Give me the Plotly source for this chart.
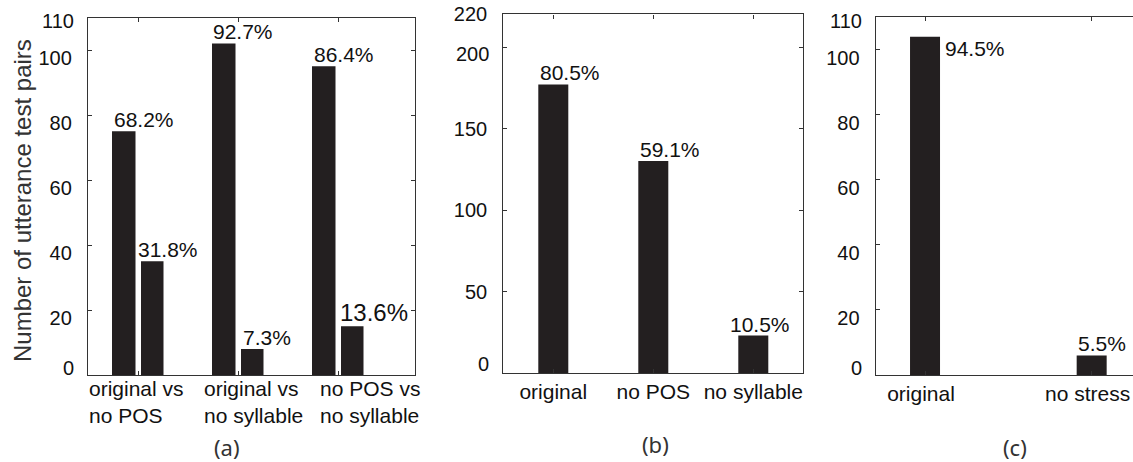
import plotly.graph_objects as go

W, H = 1133, 462

# ---------------- data ----------------
# panel (a): paired comparisons, 110 test pairs each
a_groups = ["original vs<br>no POS", "original vs<br>no syllable", "no POS vs<br>no syllable"]
a_first = [75, 102, 95]
a_second = [35, 8, 15]
a_first_pct = ["68.2%", "92.7%", "86.4%"]
a_second_pct = ["31.8%", "7.3%", "13.6%"]
a_yticks = [0, 20, 40, 60, 80, 100, 110]

# panel (b)
b_cats = ["original", "no POS", "no syllable"]
b_vals = [177, 130, 23]
b_pct = ["80.5%", "59.1%", "10.5%"]
b_yticks = [0, 50, 100, 150, 200, 220]

# panel (c)
c_cats = ["original", "no stress"]
c_vals = [104, 6]
c_pct = ["94.5%", "5.5%"]
c_yticks = [0, 20, 40, 60, 80, 100, 110]

y_title = "Number of utterance test pairs"
panel_labels = ["(a)", "(b)", "(c)"]

# ---------------- style ----------------
BAR = "#231f20"
LINE = "#333333"
TXT = "#111111"
FONT = "Liberation Sans, Arial, sans-serif"


def px_x(p):
    return p / W


def px_y(p):
    return (H - p) / H


fig = go.Figure()

# panel (a) bars
xa = list(range(len(a_groups)))
fig.add_trace(go.Bar(x=xa, y=a_first, width=0.235, offset=-0.26,
                     marker=dict(color=BAR, line=dict(width=0)),
                     xaxis="x", yaxis="y", showlegend=False))
fig.add_trace(go.Bar(x=xa, y=a_second, width=0.225, offset=0.03,
                     marker=dict(color=BAR, line=dict(width=0)),
                     xaxis="x", yaxis="y", showlegend=False))

# panel (b) bars
xb = list(range(len(b_cats)))
fig.add_trace(go.Bar(x=xb, y=b_vals, width=0.3,
                     marker=dict(color=BAR, line=dict(width=0)),
                     xaxis="x2", yaxis="y2", showlegend=False))

# panel (c) bars
xc = list(range(len(c_cats)))
fig.add_trace(go.Bar(x=xc, y=c_vals, width=0.18,
                     marker=dict(color=BAR, line=dict(width=0)),
                     xaxis="x3", yaxis="y3", showlegend=False))


def yaxis_cfg(domain, rng, ticks, hidden, shift, anchor, mirror):
    return dict(domain=domain, range=rng, anchor=anchor, automargin=False,
                tickmode="array", tickvals=ticks,
                ticktext=["" if t in hidden else str(t) for t in ticks],
                ticks="inside", ticklen=4, tickwidth=1, tickcolor=LINE,
                showline=True, linecolor=LINE, linewidth=1.3, mirror=mirror,
                showgrid=False, zeroline=False,
                ticklabelshift=shift, ticklabelstandoff=11,
                tickfont=dict(family=FONT, size=20, color=TXT))


def xaxis_cfg(domain, rng, n, labels, anchor, shift=0):
    return dict(domain=domain, range=rng, anchor=anchor, automargin=False,
                tickmode="array", tickvals=list(range(n)),
                ticktext=labels if labels else [""] * n,
                showticklabels=bool(labels),
                ticks="inside", ticklen=4, tickwidth=1, tickcolor=LINE,
                showline=True, linecolor=LINE, linewidth=1.3, mirror="ticks",
                showgrid=False, zeroline=False, ticklabelshift=shift,
                ticklabelstandoff=0,
                tickfont=dict(family=FONT, size=21, color=TXT))


ya_dom = [px_y(375), px_y(17.5)]
yb_dom = [px_y(373), px_y(14.4)]
yc_dom = [px_y(375), px_y(17.3)]

fig.update_layout(
    template="none",
    xaxis=xaxis_cfg([px_x(88), px_x(415)], [-0.5, 2.77], len(a_groups), None, "y"),
    yaxis=yaxis_cfg(ya_dom, [0, 110], a_yticks, {0, 110}, 8, "x", "ticks"),
    xaxis2=xaxis_cfg([px_x(503.3), px_x(803.3)], [-0.5, 2.5], len(b_cats), b_cats, "y2"),
    yaxis2=yaxis_cfg(yb_dom, [0, 220], b_yticks, {0, 200}, 0, "x2", "ticks"),
    xaxis3=xaxis_cfg([px_x(875.7), 1.0], [-0.296, 1.248], len(c_cats), c_cats, "y3", -4),
    yaxis3=yaxis_cfg(yc_dom, [0, 110], c_yticks, {0, 110}, 8, "x3", False),
)

ann = []


def tick_note(xr, yr, val, yshift):
    ann.append(dict(xref=xr + " domain", yref=yr, x=0, y=val, text=str(val),
                    xanchor="right", yanchor="middle", xshift=-12, yshift=yshift,
                    showarrow=False, font=dict(family=FONT, size=20, color=TXT)))


# displaced y tick labels
tick_note("x", "y", 0, 7)
tick_note("x", "y", 110, -4)
tick_note("x2", "y2", 0, 9)
tick_note("x2", "y2", 200, -7)
tick_note("x3", "y3", 0, 7)
tick_note("x3", "y3", 110, -4)


def pct_note(xr, yr, x, y, text, size=21, xshift=0, yshift=-2, anchor="bottom"):
    ann.append(dict(xref=xr, yref=yr, x=x, y=y, text=text,
                    xanchor="left", yanchor=anchor, xshift=xshift, yshift=yshift,
                    showarrow=False, font=dict(family=FONT, size=size, color=TXT)))


# (a) percent labels
a1_shift = [0, -1, 0]
a2_shift = [-5, 0, -3]
a2_size = [21, 21, 24]
for i in xa:
    pct_note("x", "y", i - 0.26, a_first[i], a_first_pct[i], xshift=a1_shift[i])
    pct_note("x", "y", i + 0.03, a_second[i], a_second_pct[i],
             size=a2_size[i], xshift=a2_shift[i])

# (b) percent labels
b_shift = [0, 0, -10]
for i in xb:
    pct_note("x2", "y2", i - 0.15, b_vals[i], b_pct[i], xshift=b_shift[i])

# (c) percent labels
pct_note("x3", "y3", 0 + 0.09, c_vals[0], c_pct[0], xshift=3, yshift=2, anchor="top")
pct_note("x3", "y3", 1 - 0.09, c_vals[1], c_pct[1], xshift=-1)

# (a) category labels (left aligned two-line blocks)
a_label_left = [87, 202, 318]
for i, t in enumerate(a_groups):
    ann.append(dict(xref="paper", yref="paper", x=px_x(a_label_left[i]), y=px_y(402),
                    text=t, align="left", xanchor="left", yanchor="middle",
                    showarrow=False, font=dict(family=FONT, size=21, color=TXT)))

# y-axis title
ann.append(dict(xref="paper", yref="paper", x=px_x(22), y=px_y(201), text=y_title,
                textangle=-90, showarrow=False, xanchor="center", yanchor="middle",
                font=dict(family=FONT, size=24, color="#333333")))

# panel captions
cap_pos = [(227, 447), (655, 444), (1015, 447)]
for (cx, cy), t in zip(cap_pos, panel_labels):
    ann.append(dict(xref="paper", yref="paper", x=px_x(cx), y=px_y(cy), text=t,
                    showarrow=False, xanchor="center", yanchor="middle",
                    font=dict(family="Noto Sans, Open Sans, sans-serif", size=22,
                              color="#333333")))

fig.update_layout(
    annotations=ann,
    width=W, height=H, autosize=False,
    margin=dict(l=0, r=0, t=0, b=0, pad=0),
    paper_bgcolor="white", plot_bgcolor="white",
    barmode="overlay",
    showlegend=False,
)

fig.write_html("out.html", config={"displayModeBar": False},
               post_script="document.body.style.margin='0';document.body.style.overflow='hidden';")
